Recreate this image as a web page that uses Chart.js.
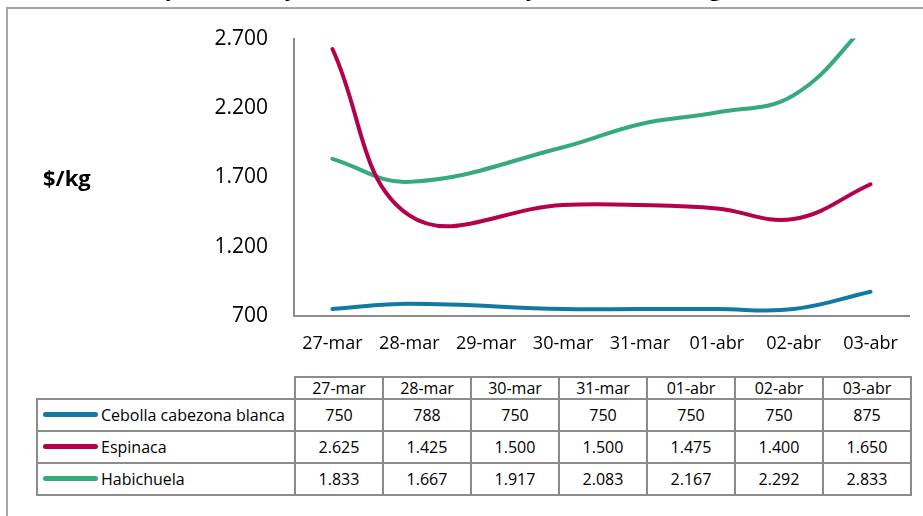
<!DOCTYPE html>
<html>
<head>
<meta charset="utf-8">
<script src="https://cdn.jsdelivr.net/npm/chart.js@4/dist/chart.umd.min.js"></script>
<style>
  html, body { margin: 0; padding: 0; background: #fff; }
  body { width: 923px; height: 516px; position: relative; overflow: hidden; font-family: "Open Sans", sans-serif; }
  #frame { position: absolute; left: 6px; top: 7px; width: 940px; height: 540px;
    border-left: 2px solid #a6a6a6; border-top: 2px solid #a6a6a6; }
  #title { position: absolute; left: 0; top: -24px; width: 923px; text-align: center;
    font: bold 22px "Open Sans", sans-serif; line-height: 22px; white-space: nowrap; }
  #unit { position: absolute; left: 43px; top: 162px; font: bold 22px "Open Sans", sans-serif; }
  #chart { position: absolute; left: 0; top: 0; }
  #dataTable { position: absolute; left: 36px; top: 376px; border-collapse: collapse;
    font: 16px "Open Sans", sans-serif; color: #000; }
  #dataTable td { border: 2px solid #8c8c8c; text-align: center; padding: 0; }
  #dataTable tr.head td { height: 20px; line-height: 20px; }
  #dataTable tr.row td { height: 30px; }
  #dataTable td.num { width: 86px; }
  #dataTable td.blank { border-top: none; border-left: none; }
  #dataTable td.name { width: 256px; text-align: left; white-space: nowrap; }
  .key { display: inline-block; width: 55px; height: 5px; border-radius: 3px; vertical-align: middle;
    margin: 0 3px 0 5px; position: relative; top: -2px; }
</style>
</head>
<body>
<div id="title">precios mayoristas de hortalizas y verduras en Bogotá</div>
<div id="frame"></div>
<canvas id="chart" width="923" height="365"></canvas>
<div id="unit">$/kg</div>
<table id="dataTable"></table>
<script>
// categorías del eje (29-mar sin dato)
const fechas = ['27-mar', '28-mar', '29-mar', '30-mar', '31-mar', '01-abr', '02-abr', '03-abr'];

const nombres = ['Cebolla cabezona blanca', 'Espinaca', 'Habichuela'];
const cebolla = [750, 788, null, 750, 750, 750, 750, 875];
const espinaca = [2625, 1425, null, 1500, 1500, 1475, 1400, 1650];
const habichuela = [1833, 1667, null, 1917, 2083, 2167, 2292, 2833];
const colores = ['#127aa2', '#b5004c', '#36aa7c'];

const yTicks = { min: 700, max: 2700, step: 500 };

const fmt = v => v.toLocaleString('de-DE');
const series = [cebolla, espinaca, habichuela];

const ctx = document.getElementById('chart').getContext('2d');
new Chart(ctx, {
  type: 'line',
  data: {
    labels: fechas,
    datasets: series.map((vals, i) => ({
      label: nombres[i],
      data: vals,
      borderColor: colores[i],
      backgroundColor: colores[i],
      borderWidth: 4,
      borderCapStyle: 'round',
      pointRadius: 0,
      tension: 0.4,
      spanGaps: true
    }))
  },
  options: {
    responsive: false,
    animation: false,
    layout: { padding: { top: 38, right: 14, left: 0, bottom: 0 } },
    plugins: {
      legend: { display: false },
      tooltip: { enabled: false }
    },
    scales: {
      x: {
        offset: true,
        grid: { display: false, offset: true },
        border: { display: true, color: '#8c8c8c', width: 2 },
        ticks: { color: '#000', font: { family: 'Open Sans', size: 18 }, padding: 9, maxRotation: 0 },
        afterFit: (scale) => { scale.height = 49; }
      },
      y: {
        min: yTicks.min,
        max: yTicks.max,
        grid: { display: false, drawTicks: false },
        border: { display: true, color: '#8c8c8c', width: 2 },
        ticks: {
          stepSize: yTicks.step,
          color: '#000',
          font: { family: 'Open Sans', size: 21 },
          padding: 26,
          callback: (v) => fmt(v)
        },
        afterFit: (scale) => { scale.width = 294; }
      }
    }
  }
});

// tabla de datos
const table = document.getElementById('dataTable');
const conDato = fechas.map((f, j) => j).filter(j => series.some(s => s[j] !== null));
let html = '<tr class="head"><td class="blank"></td>' +
  conDato.map(j => `<td class="num">${fechas[j]}</td>`).join('') + '</tr>';
series.forEach((vals, i) => {
  html += `<tr class="row"><td class="name"><span class="key" style="background:${colores[i]}"></span>${nombres[i]}</td>` +
    conDato.map(j => `<td class="num">${fmt(vals[j])}</td>`).join('') + '</tr>';
});
table.innerHTML = html;
</script>
</body>
</html>
